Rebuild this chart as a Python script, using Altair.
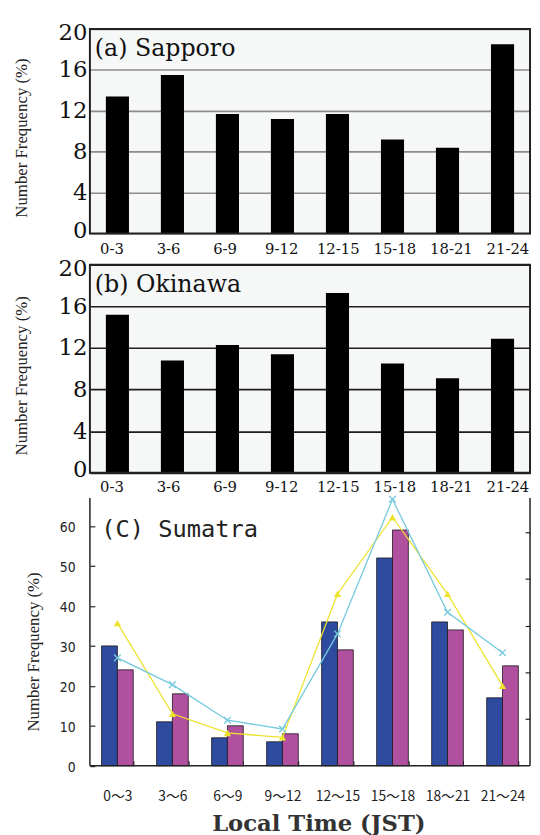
import altair as alt
import pandas as pd

# ---------------- data ----------------
periods_ab = ["0-3", "3-6", "6-9", "9-12", "12-15", "15-18", "18-21", "21-24"]
sapporo = [13.4, 15.5, 11.7, 11.2, 11.7, 9.2, 8.4, 18.5]
okinawa = [15.2, 10.8, 12.3, 11.4, 17.3, 10.5, 9.1, 12.9]
yticks_ab = [0, 4, 8, 12, 16, 20]

periods_c = ["0～3", "3～6", "6～9", "9～12", "12～15", "15～18", "18～21", "21～24"]
bar_series = ["Bars 1", "Bars 2"]
line_series = ["Line 1", "Line 2"]
sumatra_bar1 = [30, 11, 7, 6, 36, 52, 36, 17]
sumatra_bar2 = [24, 18, 10, 8, 29, 59, 34, 25]
sumatra_line1 = [35.7, 13.0, 8.2, 7.1, 43.0, 62.2, 43.0, 20.0]   # yellow, triangles
sumatra_line2 = [27.0, 20.3, 11.4, 9.2, 33.0, 66.7, 38.4, 28.3]  # cyan, crosses
yticks_c = [0, 10, 20, 30, 40, 50, 60]
right_ticks_c = [10, 20, 30, 40, 50]

W = 446
HA, HB, HC = 207.3, 210.7, 265.6
one = pd.DataFrame({"k": [0]})


def station(values, label, grid_color, height, lab_pad, title_y):
    df = pd.DataFrame({"period": periods_ab, "freq": values})
    x = alt.X("period:N", sort=periods_ab, title=None,
              scale=alt.Scale(paddingInner=0.58, paddingOuter=0.29),
              axis=alt.Axis(labelAngle=0, labelFont="DejaVu Serif", labelFontSize=15,
                            labelColor="#111", ticks=False, tickSize=0, domain=False,
                            labelPadding=lab_pad,
                            labelOffset=alt.ExprRef(expr="(datum.index - 0.5) * 11")))
    y = alt.Y("freq:Q", scale=alt.Scale(domain=[0, 20], nice=False),
              axis=alt.Axis(values=yticks_ab, title="Number Frequency (%)", grid=True,
                            gridColor=grid_color, gridWidth=1.6, ticks=False, tickSize=0,
                            domain=False, labelFont="DejaVu Serif", labelFontSize=23,
                            labelColor="#111", labelPadding=3,
                            labelOffset=alt.ExprRef(
                                expr="datum.value == 20 ? 4 : (datum.value == 0 ? -3 : 0)"),
                            titleFont="Liberation Serif", titleFontSize=17,
                            titleFontWeight="normal", titleColor="#222", titleAngle=270,
                            titleAlign="center", titleBaseline="top", titleX=-77.5,
                            titleY=title_y))
    bars = alt.Chart(df).mark_bar(color="black").encode(x=x, y=y)
    frame = alt.Chart(one).mark_rect(fill="transparent", stroke="#222", strokeWidth=2).encode(
        x=alt.value(0), x2=alt.value(W), y=alt.value(0), y2=alt.value(height))
    txt = alt.Chart(pd.DataFrame({"t": [label]})).mark_text(
        align="left", baseline="alphabetic", font="DejaVu Serif", fontSize=24, color="#111"
    ).encode(x=alt.value(5), y=alt.value(27.3), text="t:N")
    return alt.layer(bars, frame, txt).properties(
        width=W, height=height,
        view=alt.ViewBackground(fill="#f6f8f8", stroke="transparent"))


panel_a = station(sapporo, "(a) Sapporo", "#8c8c8c", HA, 8, 110)
panel_b = station(okinawa, "(b) Okinawa", "#1e1e1e", HB, 7, 112)

# ---------------- panel (c) ----------------
bars_df = pd.DataFrame({
    "period": periods_c * 2,
    "series": [bar_series[0]] * 8 + [bar_series[1]] * 8,
    "value": sumatra_bar1 + sumatra_bar2,
})
lines_df = pd.DataFrame({
    "period": periods_c * 2,
    "series": [line_series[0]] * 8 + [line_series[1]] * 8,
    "value": sumatra_line1 + sumatra_line2,
})
color_scale = alt.Scale(domain=bar_series + line_series,
                        range=["#2e4ba0", "#b250a0", "#ece22c", "#74c9de"])

xc = alt.X("period:N", sort=periods_c, title="Local Time (JST)",
           scale=alt.Scale(paddingInner=0.424, paddingOuter=0.212),
           axis=alt.Axis(labelAngle=0, labelFont="Noto Sans CJK JP", labelFontSize=14,
                         labelColor="#222", tickBand="extent", tickSize=5, tickColor="#222",
                         tickWidth=1.2, domain=False, offset=-5, labelPadding=24,
                         titleFont="DejaVu Serif", titleFontSize=23, titleFontWeight="bold",
                         titleColor="#333", titleBaseline="alphabetic", titleAlign="center",
                         titleX=231.5, titleY=70.7))
yc = alt.Y("value:Q", title="Number Frequency (%)",
           scale=alt.Scale(domain=[0, 65.6], nice=False),
           axis=alt.Axis(values=yticks_c, offset=-5, tickSize=5, tickColor="#222",
                         tickWidth=1.2, domain=False, grid=False,
                         labelFont="Liberation Sans Narrow, DejaVu Sans Condensed, Noto Sans CJK JP",
                         labelFontSize=14, labelColor="#222", labelPadding=15, labelOffset=2,
                         titleFont="Liberation Serif", titleFontSize=17,
                         titleFontWeight="normal", titleColor="#222", titleAngle=270,
                         titleAlign="center", titleBaseline="top", titleX=-70.5,
                         titleY=149.8))
col = alt.Color("series:N", scale=color_scale, legend=None)

bars_c = alt.Chart(bars_df).mark_bar(stroke="#1a1a1a", strokeWidth=0.8).encode(
    x=xc,
    xOffset=alt.XOffset("series:N", sort=bar_series,
                        scale=alt.Scale(paddingInner=0, paddingOuter=0)),
    y=yc, color=col)
lines_c = alt.Chart(lines_df).mark_line(strokeWidth=1.3).encode(x=xc, y=yc, color=col)
tri = alt.Chart(lines_df).transform_filter(alt.datum.series == line_series[0]).mark_point(
    shape="triangle-up", filled=True, size=55, opacity=1).encode(x=xc, y=yc, color=col)
crs = alt.Chart(lines_df).transform_filter(alt.datum.series == line_series[1]).mark_point(
    shape="M-1,-1L1,1M-1,1L1,-1", filled=False, size=45, strokeWidth=1.3, opacity=1
).encode(x=xc, y=yc, color=col)

left_line = alt.Chart(one).mark_rule(color="#222", strokeWidth=1.5).encode(
    x=alt.value(0), y=alt.value(-5.7), y2=alt.value(HC))
right_line = alt.Chart(one).mark_rule(color="#222", strokeWidth=1.5).encode(
    x=alt.value(W), y=alt.value(-5.7), y2=alt.value(HC))
bottom_line = alt.Chart(one).mark_rule(color="#222", strokeWidth=1.5).encode(
    x=alt.value(0), x2=alt.value(W), y=alt.value(HC))
title_c = alt.Chart(pd.DataFrame({"t": ["(C) Sumatra"]})).mark_text(
    align="left", baseline="alphabetic", font="DejaVu Sans Mono", fontSize=24, color="#222"
).encode(x=alt.value(11.5), y=alt.value(34), text="t:N")

main_c = alt.layer(bars_c, lines_c, tri, crs, left_line, right_line, bottom_line, title_c)

right_ticks = alt.Chart(pd.DataFrame({"v": right_ticks_c})).mark_rule(opacity=0).encode(
    y=alt.Y("v:Q", title=None, scale=alt.Scale(domain=[0, HC / 4.73], nice=False),
            axis=alt.Axis(orient="right", values=right_ticks_c, labels=False, domain=False,
                          tickSize=5, tickColor="#222", tickWidth=1.2, offset=-5, grid=False)))

panel_c = alt.layer(main_c, right_ticks).resolve_scale(y="independent").properties(
    width=W, height=HC, view=alt.ViewBackground(fill="white", stroke="transparent"))

chart = alt.vconcat(panel_a, panel_b, panel_c, spacing=31, bounds="flush").properties(
    padding={"left": 4, "top": 7.7, "right": 0, "bottom": 0}, background="white")

chart.save("out.html", embed_options={"renderer": "svg", "actions": False})
